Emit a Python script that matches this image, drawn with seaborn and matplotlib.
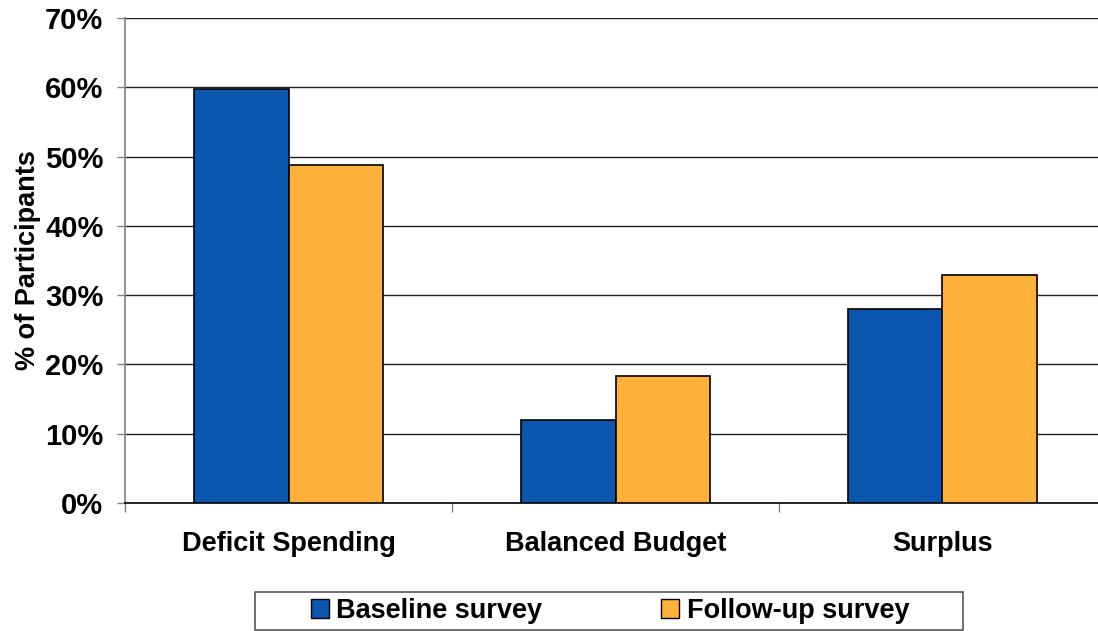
import matplotlib
matplotlib.use("Agg")
import matplotlib.pyplot as plt
from matplotlib.patches import Rectangle
from matplotlib.ticker import FixedLocator, FuncFormatter
import pandas as pd
import seaborn as sns

# Survey results (% of participants)
categories = ["Deficit Spending", "Balanced Budget", "Surplus"]
baseline = [59.8, 12.0, 28.0]
follow_up = [48.8, 18.3, 32.9]
series_names = ["Baseline survey", "Follow-up survey"]
y_ticks = [0, 10, 20, 30, 40, 50, 60, 70]

colors = ["#0b57b0", "#feb13b"]

df = pd.DataFrame({
    "category": categories * 2,
    "value": baseline + follow_up,
    "survey": [series_names[0]] * len(categories) + [series_names[1]] * len(categories),
})

sns.set_theme(style="white")
plt.rcParams["font.family"] = ["Liberation Sans", "DejaVu Sans"]
plt.rcParams["font.weight"] = "bold"
plt.rcParams["text.color"] = "black"
plt.rcParams["axes.labelcolor"] = "black"
plt.rcParams["xtick.labelcolor"] = "black"
plt.rcParams["ytick.labelcolor"] = "black"

fig = plt.figure(figsize=(10.98, 6.31), dpi=100)
ax = fig.add_axes([125 / 1098, 1 - 503 / 631, 981 / 1098, 485 / 631])

sns.barplot(
    data=df, x="category", y="value", hue="survey", order=categories,
    hue_order=series_names, palette=colors, width=0.575, gap=0,
    edgecolor="black", linewidth=1.2, saturation=1, ax=ax, legend=False,
    zorder=3,
)

ax.set_xlim(-0.5, 2.5)
ax.set_ylim(0, 70)
ax.yaxis.set_major_locator(FixedLocator(y_ticks))
ax.yaxis.set_major_formatter(FuncFormatter(lambda v, _: f"{v:.0f}%"))
ax.grid(axis="y", color="#222222", linewidth=1.0, zorder=0)
ax.set_axisbelow(True)

for side in ("top", "right"):
    ax.spines[side].set_visible(False)
ax.spines["left"].set_color("#808080")
ax.spines["left"].set_linewidth(1.2)
ax.spines["bottom"].set_color("black")
ax.spines["bottom"].set_linewidth(1.2)

ax.tick_params(axis="y", which="major", length=5.5, width=1, color="#808080",
               direction="out", left=True, pad=10, labelsize=21,
               labelcolor="black")
ax.set_xticks([0, 1, 2])
ax.set_xticklabels(categories, fontsize=19.5, fontweight="bold", color="black")
ax.tick_params(axis="x", which="major", length=0, pad=20)
ax.set_xticks([-0.5, 0.5, 1.5, 2.5], minor=True)
ax.tick_params(axis="x", which="minor", length=6.5, width=1, color="#808080",
               direction="out", bottom=True)
for lbl in ax.get_yticklabels():
    lbl.set_fontweight("bold")

ax.set_xlabel("")
ax.set_ylabel("% of Participants", fontsize=19.5, fontweight="bold", color="black")
ax.yaxis.set_label_coords(-0.086, 0.5)

# Legend: frameless entries inside a drawn box
handles = [Rectangle((0, 0), 1, 1, facecolor=c, edgecolor="black", linewidth=1.0)
           for c in colors]
fig.legend(handles, series_names, loc="center", bbox_to_anchor=(610 / 1098, 1 - 611 / 631),
           ncol=2, frameon=False, prop={"size": 19.5, "weight": "bold"},
           handlelength=0.67, handleheight=0.67, handletextpad=0.26,
           columnspacing=4.4, borderpad=0, labelcolor="black")
fig.patches.append(Rectangle((255 / 1098, 1 - 630 / 631), 708 / 1098, 38 / 631,
                             transform=fig.transFigure, fill=False,
                             edgecolor="#555555", linewidth=1.2))

fig.savefig("out.png", dpi=100)
